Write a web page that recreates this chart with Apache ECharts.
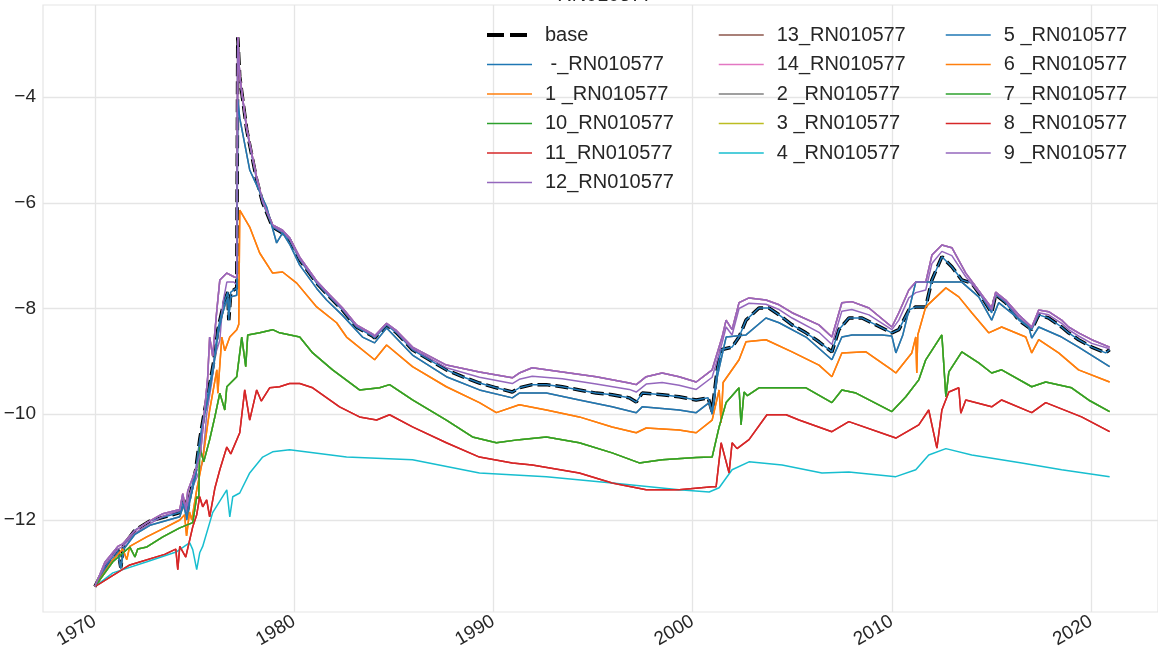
<!DOCTYPE html>
<html>
<head>
<meta charset="utf-8">
<script src="https://cdn.jsdelivr.net/npm/echarts@6/dist/echarts.min.js"></script>
<style>html,body{margin:0;padding:0;background:#fff;}#c{width:1158px;height:666px;}</style>
</head>
<body>
<div id="c"></div>
<script>
// ---- data (year, value) ----
const xTicks = [1970, 1980, 1990, 2000, 2010, 2020];
const yTicks = [-12, -10, -8, -6, -4];

const baseLine = [[1970.00,-13.26],[1970.50,-12.90],[1971.15,-12.56],[1971.30,-12.90],[1971.45,-12.47],[1972.01,-12.19],[1972.76,-12.02],[1973.51,-11.94],[1974.26,-11.86],[1974.46,-11.62],[1974.61,-11.92],[1974.76,-11.56],[1975.06,-11.05],[1975.26,-10.48],[1975.51,-9.92],[1975.76,-9.44],[1975.96,-9.01],[1976.17,-8.40],[1976.37,-8.06],[1976.52,-7.84],[1976.67,-7.69],[1976.72,-8.22],[1976.82,-7.69],[1977.12,-7.61],[1977.17,-2.87],[1977.27,-3.62],[1977.62,-4.62],[1978.12,-5.57],[1978.42,-6.00],[1978.92,-6.46],[1979.42,-6.57],[1979.77,-6.70],[1980.28,-7.08],[1981.13,-7.52],[1981.78,-7.78],[1982.43,-8.03],[1983.13,-8.35],[1983.93,-8.52],[1984.04,-8.56],[1984.64,-8.31],[1985.14,-8.46],[1985.94,-8.78],[1986.79,-8.97],[1987.64,-9.16],[1988.45,-9.29],[1989.30,-9.41],[1990.15,-9.50],[1990.95,-9.58],[1991.30,-9.50],[1991.95,-9.44],[1992.66,-9.44],[1993.46,-9.48],[1994.31,-9.54],[1995.16,-9.60],[1995.96,-9.63],[1996.82,-9.69],[1997.17,-9.77],[1997.47,-9.60],[1998.47,-9.63],[1999.32,-9.67],[2000.18,-9.73],[2000.78,-9.69],[2000.98,-9.95],[2001.23,-9.16],[2001.43,-8.78],[2001.98,-8.73],[2002.33,-8.54],[2002.68,-8.22],[2003.33,-7.99],[2003.83,-7.99],[2004.34,-8.12],[2004.99,-8.31],[2005.69,-8.46],[2006.34,-8.63],[2006.99,-8.82],[2007.34,-8.40],[2007.84,-8.18],[2008.50,-8.18],[2009.20,-8.31],[2010.00,-8.46],[2010.35,-8.40],[2010.85,-8.03],[2011.20,-7.97],[2011.70,-7.97],[2012.01,-7.46],[2012.51,-7.02],[2013.01,-7.21],[2013.51,-7.46],[2014.01,-7.52],[2014.51,-7.78],[2015.01,-8.08],[2015.21,-7.74],[2015.71,-7.89],[2016.37,-8.22],[2017.02,-8.40],[2017.37,-8.12],[2017.87,-8.18],[2018.52,-8.35],[2018.87,-8.46],[2019.37,-8.59],[2020.03,-8.73],[2020.73,-8.84],[2020.93,-8.78]];

const lowBlueLine = [[1970.00,-13.26],[1970.50,-12.95],[1971.15,-12.62],[1971.30,-12.92],[1971.45,-12.55],[1972.01,-12.27],[1972.76,-12.10],[1973.51,-12.02],[1974.26,-11.94],[1974.46,-11.70],[1974.61,-12.00],[1974.76,-11.65],[1975.06,-11.15],[1975.26,-10.60],[1975.51,-10.00],[1975.76,-9.55],[1975.96,-9.10],[1976.17,-8.50],[1976.37,-8.15],[1976.52,-7.95],[1976.67,-7.80],[1976.72,-8.10],[1976.82,-7.78],[1977.12,-7.75],[1977.17,-4.05],[1977.27,-4.40],[1977.77,-5.38],[1978.62,-6.08],[1979.12,-6.76],[1979.42,-6.57],[1979.77,-6.78],[1980.28,-7.18],[1981.13,-7.62],[1981.63,-7.84],[1982.43,-8.13],[1983.43,-8.54],[1984.04,-8.65],[1984.64,-8.37],[1985.94,-8.88],[1987.64,-9.29],[1989.30,-9.54],[1990.95,-9.69],[1991.30,-9.60],[1992.66,-9.60],[1994.31,-9.73],[1995.96,-9.86],[1997.17,-9.97],[1997.47,-9.86],[1999.32,-9.92],[2000.18,-9.97],[2000.83,-9.78],[2000.98,-10.00],[2001.23,-9.30],[2001.68,-8.54],[2002.68,-8.50],[2003.68,-8.18],[2004.34,-8.27],[2005.69,-8.54],[2006.99,-8.97],[2007.49,-8.54],[2008.00,-8.50],[2009.50,-8.50],[2010.00,-8.52],[2010.20,-8.84],[2010.55,-8.50],[2011.20,-7.50],[2011.85,-7.50],[2012.51,-7.50],[2013.51,-7.50],[2014.36,-7.78],[2015.01,-8.22],[2015.36,-7.89],[2016.87,-8.35],[2017.02,-8.56],[2017.37,-8.35],[2018.52,-8.54],[2019.37,-8.73],[2020.93,-9.10]];

const orangeLine = [[1970.00,-13.26],[1970.90,-12.75],[1971.40,-12.55],[1971.60,-12.75],[1971.75,-12.50],[1972.60,-12.32],[1973.50,-12.15],[1974.26,-12.00],[1974.50,-11.90],[1974.60,-12.30],[1974.75,-11.85],[1974.86,-12.00],[1975.11,-11.43],[1975.41,-10.86],[1975.76,-9.92],[1976.12,-9.16],[1976.17,-9.60],[1976.37,-8.54],[1976.52,-8.80],[1976.77,-8.54],[1977.12,-8.40],[1977.22,-8.30],[1977.27,-6.14],[1977.77,-6.46],[1978.27,-6.95],[1978.92,-7.33],[1979.42,-7.31],[1980.13,-7.52],[1981.13,-7.97],[1982.13,-8.27],[1982.63,-8.54],[1984.04,-8.97],[1984.64,-8.69],[1985.94,-9.10],[1987.64,-9.48],[1989.30,-9.78],[1990.15,-9.97],[1991.30,-9.82],[1992.66,-9.92],[1994.31,-10.05],[1995.96,-10.24],[1997.17,-10.35],[1997.67,-10.26],[1999.32,-10.30],[2000.18,-10.35],[2000.98,-10.11],[2001.33,-9.54],[2001.43,-10.16],[2001.53,-9.40],[2002.33,-8.97],[2002.68,-8.63],[2003.68,-8.59],[2004.99,-8.82],[2006.34,-9.07],[2006.99,-9.29],[2007.49,-8.84],[2008.70,-8.82],[2010.00,-9.16],[2010.20,-9.22],[2011.00,-8.84],[2011.20,-8.54],[2011.25,-9.22],[2011.30,-8.50],[2011.70,-7.97],[2012.71,-7.61],[2013.36,-7.78],[2014.01,-8.08],[2014.86,-8.46],[2015.51,-8.35],[2016.72,-8.54],[2017.02,-8.84],[2017.37,-8.59],[2018.37,-8.84],[2019.37,-9.16],[2020.93,-9.39]];

const greenLine = [[1970.00,-13.26],[1970.90,-12.79],[1971.75,-12.51],[1972.01,-12.70],[1972.15,-12.55],[1972.61,-12.51],[1973.41,-12.32],[1974.26,-12.15],[1974.91,-12.05],[1975.11,-11.56],[1975.21,-11.60],[1975.26,-10.62],[1975.46,-10.90],[1975.76,-10.48],[1976.02,-10.05],[1976.27,-9.60],[1976.52,-9.92],[1976.62,-9.48],[1977.12,-9.29],[1977.37,-8.54],[1977.57,-9.10],[1977.67,-8.50],[1978.27,-8.46],[1978.92,-8.40],[1979.27,-8.46],[1980.28,-8.54],[1980.93,-8.84],[1981.93,-9.16],[1983.28,-9.54],[1984.29,-9.50],[1984.79,-9.44],[1985.94,-9.73],[1987.64,-10.11],[1988.95,-10.43],[1990.15,-10.54],[1991.30,-10.48],[1992.66,-10.43],[1994.31,-10.54],[1995.96,-10.73],[1997.32,-10.92],[1998.47,-10.86],[2000.18,-10.82],[2000.98,-10.81],[2001.33,-10.24],[2001.68,-9.78],[2002.33,-9.50],[2002.43,-10.20],[2002.58,-9.58],[2002.75,-9.65],[2003.33,-9.50],[2005.69,-9.50],[2006.99,-9.78],[2007.49,-9.54],[2008.20,-9.60],[2010.00,-9.95],[2010.70,-9.67],[2011.35,-9.35],[2011.70,-8.97],[2012.51,-8.50],[2012.71,-9.67],[2012.86,-9.20],[2013.51,-8.82],[2014.36,-9.03],[2015.01,-9.22],[2015.51,-9.16],[2017.02,-9.48],[2017.72,-9.39],[2019.02,-9.50],[2019.87,-9.73],[2020.93,-9.95]];

const redLine = [[1970.00,-13.26],[1971.75,-12.85],[1973.50,-12.65],[1974.06,-12.55],[1974.16,-12.94],[1974.26,-12.50],[1974.56,-12.70],[1974.91,-12.13],[1975.11,-11.90],[1975.26,-11.56],[1975.41,-11.75],[1975.61,-11.62],[1975.76,-11.94],[1976.02,-11.40],[1976.27,-11.05],[1976.62,-10.62],[1976.82,-10.75],[1977.27,-10.35],[1977.52,-9.54],[1977.77,-10.11],[1978.12,-9.54],[1978.35,-9.75],[1978.77,-9.50],[1979.27,-9.48],[1979.77,-9.42],[1980.28,-9.42],[1980.93,-9.50],[1982.28,-9.86],[1983.28,-10.05],[1984.14,-10.11],[1984.79,-10.01],[1985.94,-10.24],[1987.64,-10.54],[1989.30,-10.81],[1990.95,-10.92],[1991.95,-10.96],[1994.31,-11.11],[1995.96,-11.30],[1997.67,-11.43],[1999.32,-11.43],[2000.98,-11.37],[2001.18,-11.37],[2001.43,-10.54],[2001.83,-11.11],[2001.98,-10.54],[2002.23,-10.65],[2002.83,-10.48],[2003.73,-10.01],[2004.69,-10.01],[2005.34,-10.11],[2006.99,-10.33],[2007.84,-10.14],[2010.20,-10.45],[2011.35,-10.20],[2011.85,-9.92],[2012.26,-10.64],[2012.51,-9.92],[2012.86,-9.58],[2013.36,-9.50],[2013.46,-9.98],[2013.71,-9.73],[2015.01,-9.86],[2015.51,-9.73],[2017.02,-9.97],[2017.72,-9.78],[2019.52,-10.05],[2020.93,-10.33]];

const cyanLine = [[1970.00,-13.26],[1970.90,-13.00],[1972.61,-12.79],[1974.11,-12.60],[1974.76,-12.43],[1974.91,-12.56],[1975.11,-12.94],[1975.26,-12.62],[1975.41,-12.50],[1975.91,-11.86],[1976.62,-11.43],[1976.77,-11.94],[1976.92,-11.56],[1977.27,-11.49],[1977.77,-11.11],[1978.42,-10.81],[1978.92,-10.71],[1979.77,-10.67],[1982.63,-10.81],[1985.94,-10.86],[1989.30,-11.11],[1992.66,-11.18],[1995.96,-11.30],[1999.32,-11.43],[2000.83,-11.47],[2001.33,-11.39],[2001.98,-11.05],[2002.83,-10.90],[2004.49,-10.96],[2006.49,-11.11],[2007.84,-11.09],[2010.20,-11.18],[2011.20,-11.05],[2011.85,-10.77],[2012.71,-10.65],[2014.01,-10.77],[2016.52,-10.92],[2018.52,-11.05],[2020.93,-11.18]];

const purpleTopLine = [[1970.00,-13.26],[1970.50,-12.80],[1971.15,-12.50],[1971.40,-12.45],[1972.01,-12.20],[1972.61,-12.05],[1973.41,-11.88],[1974.26,-11.80],[1974.41,-11.50],[1974.56,-11.80],[1974.66,-11.45],[1975.11,-11.00],[1975.31,-10.70],[1975.51,-9.90],[1975.66,-9.30],[1975.76,-8.54],[1975.91,-8.90],[1976.12,-8.03],[1976.27,-7.46],[1976.62,-7.33],[1976.97,-7.40],[1977.12,-7.42],[1977.17,-2.87],[1977.27,-3.60],[1977.62,-4.60],[1978.12,-5.52],[1978.42,-5.96],[1978.92,-6.42],[1979.42,-6.52],[1979.77,-6.66],[1980.28,-7.03],[1981.13,-7.48],[1981.78,-7.74],[1982.43,-7.99],[1983.13,-8.31],[1983.93,-8.48],[1984.04,-8.52],[1984.64,-8.28],[1985.14,-8.42],[1985.94,-8.73],[1987.64,-9.07],[1989.30,-9.20],[1990.95,-9.31],[1991.30,-9.22],[1991.95,-9.12],[1993.46,-9.20],[1995.16,-9.29],[1996.82,-9.41],[1997.17,-9.44],[1997.67,-9.29],[1998.47,-9.22],[1999.32,-9.29],[2000.18,-9.39],[2000.98,-9.16],[2001.48,-8.54],[2001.68,-8.22],[2001.98,-8.40],[2002.33,-7.89],[2002.83,-7.80],[2003.68,-7.84],[2004.34,-7.93],[2004.99,-8.08],[2006.34,-8.31],[2006.99,-8.54],[2007.49,-7.89],[2007.99,-7.87],[2008.85,-7.99],[2010.00,-8.35],[2010.35,-8.08],[2010.85,-7.65],[2011.20,-7.50],[2011.70,-7.50],[2012.01,-6.99],[2012.51,-6.80],[2013.01,-6.85],[2013.71,-7.33],[2014.51,-7.74],[2015.01,-7.99],[2015.21,-7.69],[2015.71,-7.84],[2016.37,-8.12],[2017.02,-8.35],[2017.37,-8.03],[2017.87,-8.06],[2018.52,-8.22],[2018.87,-8.35],[2019.37,-8.46],[2020.03,-8.59],[2020.93,-8.73]];

const purpleMidLine = [[1970.00,-13.26],[1970.50,-12.85],[1971.15,-12.55],[1971.40,-12.50],[1972.01,-12.25],[1972.61,-12.10],[1973.41,-11.93],[1974.26,-11.82],[1974.41,-11.55],[1974.56,-11.85],[1974.76,-11.50],[1975.11,-11.20],[1975.41,-10.90],[1975.61,-10.00],[1975.86,-9.40],[1976.02,-8.90],[1976.27,-8.60],[1976.42,-7.90],[1976.62,-7.50],[1976.97,-7.50],[1977.12,-7.55],[1977.17,-2.87],[1977.27,-3.61],[1977.62,-4.61],[1978.12,-5.55],[1978.42,-5.98],[1978.92,-6.44],[1979.42,-6.55],[1979.77,-6.68],[1980.28,-7.06],[1981.13,-7.50],[1981.78,-7.76],[1982.43,-8.01],[1983.13,-8.33],[1983.93,-8.50],[1984.04,-8.54],[1984.64,-8.29],[1985.14,-8.44],[1985.94,-8.76],[1987.64,-9.12],[1989.30,-9.30],[1990.95,-9.42],[1991.30,-9.34],[1991.95,-9.28],[1993.46,-9.33],[1995.16,-9.43],[1996.82,-9.53],[1997.17,-9.58],[1997.67,-9.43],[1998.47,-9.40],[1999.32,-9.45],[2000.18,-9.53],[2000.98,-9.30],[2001.48,-8.65],[2001.68,-8.35],[2001.98,-8.50],[2002.33,-8.00],[2002.83,-7.90],[2003.68,-7.92],[2004.34,-8.02],[2004.99,-8.18],[2006.34,-8.45],[2006.99,-8.68],[2007.49,-8.05],[2007.99,-8.02],[2008.85,-8.12],[2010.00,-8.40],[2010.35,-8.22],[2010.85,-7.80],[2011.20,-7.70],[2011.70,-7.65],[2012.01,-7.15],[2012.51,-6.92],[2013.01,-7.00],[2013.71,-7.40],[2014.51,-7.76],[2015.01,-8.03],[2015.21,-7.72],[2015.71,-7.86],[2016.37,-8.17],[2017.02,-8.37],[2017.37,-8.08],[2017.87,-8.12],[2018.52,-8.28],[2018.87,-8.40],[2019.37,-8.52],[2020.03,-8.66],[2020.93,-8.76]];

// series names in legend order, with the curve each follows
const seriesNames = ['base', ' -_RN010577', '1 _RN010577', '10_RN010577', '11_RN010577', '12_RN010577',
  '13_RN010577', '14_RN010577', '2 _RN010577', '3 _RN010577', '4 _RN010577',
  '5 _RN010577', '6 _RN010577', '7 _RN010577', '8 _RN010577', '9 _RN010577'];
const seriesData = [baseLine, baseLine, orangeLine, greenLine, redLine, purpleMidLine,
  purpleTopLine, purpleTopLine, lowBlueLine, greenLine, cyanLine,
  lowBlueLine, orangeLine, greenLine, redLine, purpleTopLine];
const seriesColors = ['#000000', '#1f77b4', '#ff7f0e', '#2ca02c', '#d62728', '#9467bd',
  '#8c564b', '#e377c2', '#7f7f7f', '#bcbd22', '#17becf',
  '#1f77b4', '#ff7f0e', '#2ca02c', '#d62728', '#9467bd'];
const legendCols = [seriesNames.slice(0, 6), seriesNames.slice(6, 11), seriesNames.slice(11, 16)];

const FONT = 'Liberation Sans';
const TXT = '#262626';
const GRID = '#e5e5e5';

const series = seriesNames.map((n, i) => ({
  name: n,
  type: 'line',
  data: seriesData[i],
  symbol: 'none',
  showSymbol: false,
  smooth: false,
  color: seriesColors[i],
  lineStyle: i === 0
    ? { color: '#000', width: 3.5, type: [13, 5] }
    : { color: seriesColors[i], width: 1.5 },
  emphasis: { disabled: true },
  z: 2
}));

const legendLefts = [480, 713, 940];
const legends = legendCols.map((names, k) => ({
  data: names.map(n => n === 'base'
    ? { name: n, lineStyle: { width: 4, type: [17, 6] } }
    : { name: n }),
  orient: 'vertical',
  left: legendLefts[k],
  top: 20,
  itemWidth: 45,
  itemHeight: 14,
  itemGap: 9.5,
  selectedMode: false,
  lineStyle: { width: 'inherit' },
  itemStyle: { color: 'rgba(0,0,0,0)', borderWidth: 0, opacity: 0 },
  textStyle: { fontFamily: FONT, fontSize: 20, color: TXT, lineHeight: 20, padding: [0, 0, 0, 8] }
}));

const chart = echarts.init(document.getElementById('c'), null, { renderer: 'canvas' });
chart.setOption({
  animation: false,
  backgroundColor: '#ffffff',
  title: {
    text: 'RN010577', left: 600, top: -20, textAlign: 'center',
    textStyle: { fontFamily: FONT, fontSize: 20, fontWeight: 'normal', color: TXT }
  },
  legend: legends,
  grid: { left: 43, right: -2, top: 5, bottom: 54, show: true, borderColor: GRID, borderWidth: 1.2, containLabel: false },
  xAxis: {
    type: 'value', min: 1967.395, max: 2023.357,
    axisLine: { show: false },
    axisTick: { show: false, customValues: xTicks },
    splitLine: { show: true, lineStyle: { color: GRID, width: 1.3 } },
    axisLabel: { customValues: xTicks, rotate: 30, margin: 8, fontFamily: FONT, fontSize: 19, color: TXT,
      formatter: v => String(v) }
  },
  yAxis: {
    type: 'value', min: -13.74, max: -2.26,
    axisLine: { show: false },
    axisTick: { show: false, customValues: yTicks },
    splitLine: { show: true, lineStyle: { color: GRID, width: 1.3 } },
    axisLabel: { customValues: yTicks, margin: 7, fontFamily: FONT, fontSize: 19, color: TXT,
      formatter: v => String(v).replace('-', '\u2212') }
  },
  series: series
});
</script>
</body>
</html>
